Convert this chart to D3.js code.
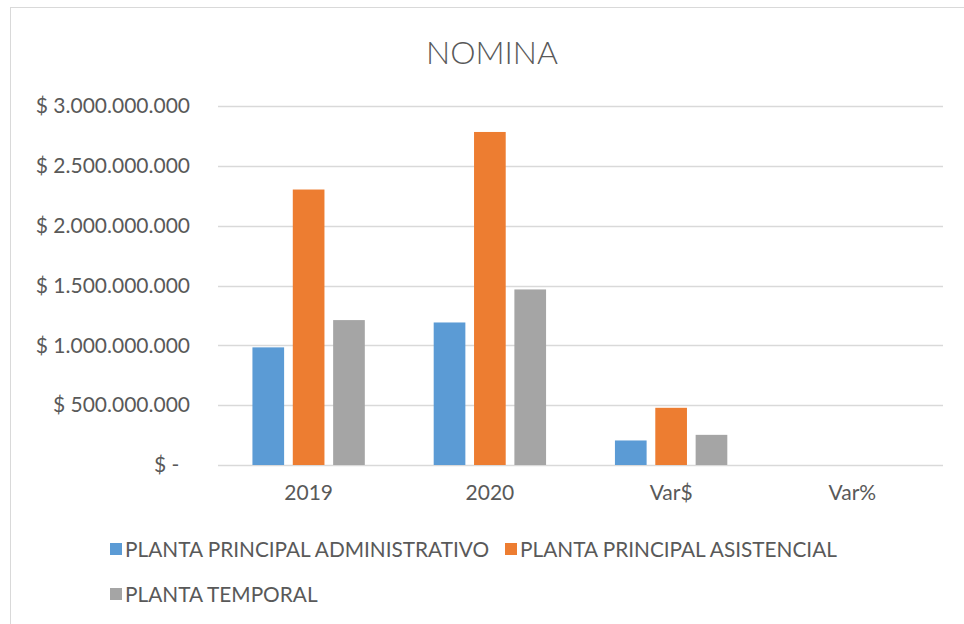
<!DOCTYPE html>
<html>
<head>
<meta charset="utf-8">
<script src="https://cdn.jsdelivr.net/npm/d3@7"></script>
<style>
  body { margin: 0; background: #fff; }
  text { font-family: Lato, "Open Sans", sans-serif; fill: #595959; }
</style>
</head>
<body>
<div id="chart"></div>
<script>
const categories = ['2019', '2020', 'Var$', 'Var%'];
const seriesNames = ['PLANTA PRINCIPAL ADMINISTRATIVO', 'PLANTA PRINCIPAL ASISTENCIAL', 'PLANTA TEMPORAL'];
const administrativo = [983000000, 1191000000, 205000000, 0.21];
const asistencial = [2302000000, 2783000000, 478000000, 0.21];
const temporal = [1211000000, 1467000000, 252000000, 0.21];
const yTicks = [0, 500000000, 1000000000, 1500000000, 2000000000, 2500000000, 3000000000];
const colors = ['#5B9BD5', '#ED7D31', '#A5A5A5'];

const width = 964;
const height = 624;
const seriesValues = [administrativo, asistencial, temporal];

const svg = d3.select('#chart')
  .append('svg')
  .attr('width', width)
  .attr('height', height);

// chart area border
svg.append('rect')
  .attr('x', 10.5)
  .attr('y', 7.5)
  .attr('width', 980)
  .attr('height', 700)
  .attr('fill', '#fff')
  .attr('stroke', '#D9D9D9');

const x = d3.scaleBand()
  .domain(categories)
  .range([218, 943])
  .padding(0);

const gapSide = x.bandwidth() * 0.19;
const xInner = d3.scaleBand()
  .domain(d3.range(seriesNames.length))
  .range([gapSide, x.bandwidth() - gapSide])
  .paddingInner(0.215)
  .paddingOuter(0);

const y = d3.scaleLinear()
  .domain([0, 3000000000])
  .range([465, 106]);

const dots = d3.formatLocale({ decimal: ',', thousands: '.', grouping: [3], currency: ['$', ''] }).format(',.0f');
const fmtTick = d => d === 0 ? '$ -\u00a0\u00a0' : '$ ' + dots(d);

// gridlines
svg.append('g')
  .selectAll('line')
  .data(yTicks)
  .enter().append('line')
  .attr('x1', 218)
  .attr('x2', 943)
  .attr('y1', d => Math.round(y(d)) + 0.5)
  .attr('y2', d => Math.round(y(d)) + 0.5)
  .attr('stroke', '#D9D9D9')
  .attr('stroke-width', 1.3);

// y axis labels
const yAxis = svg.append('g')
  .attr('transform', 'translate(218,0)')
  .call(d3.axisLeft(y).tickValues(yTicks).tickFormat(fmtTick).tickSize(0).tickPadding(28));
yAxis.select('.domain').remove();
yAxis.selectAll('text')
  .style('font-size', '21px')
  .attr('fill', '#595959');

// bars
const groups = svg.append('g')
  .selectAll('g')
  .data(categories)
  .enter().append('g')
  .attr('transform', d => `translate(${x(d)},0)`);

groups.selectAll('rect')
  .data((c, ci) => seriesValues.map((vals, si) => ({ si, v: vals[ci] })))
  .enter().append('rect')
  .attr('x', d => xInner(d.si))
  .attr('width', xInner.bandwidth())
  .attr('y', d => y(d.v))
  .attr('height', d => y(0) - y(d.v))
  .attr('fill', d => colors[d.si]);

// x axis labels
const xAxis = svg.append('g')
  .attr('transform', 'translate(0,465)')
  .call(d3.axisBottom(x).tickSize(0).tickPadding(20));
xAxis.select('.domain').remove();
xAxis.selectAll('text')
  .style('font-size', '21px')
  .attr('fill', '#595959');

// title
svg.append('text')
  .attr('x', 492)
  .attr('y', 64)
  .attr('text-anchor', 'middle')
  .style('font-size', '32px')
  .style('font-weight', 300)
  .text('NOMINA');

// legend
const legendPos = [[110, 549], [505, 549], [110, 594]];
const legend = svg.append('g')
  .selectAll('g')
  .data(seriesNames)
  .enter().append('g')
  .attr('transform', (d, i) => `translate(${legendPos[i][0]},${legendPos[i][1]})`);

legend.append('rect')
  .attr('x', 0)
  .attr('y', -6)
  .attr('width', 12)
  .attr('height', 12)
  .attr('fill', (d, i) => colors[i]);

legend.append('text')
  .attr('x', 15)
  .attr('dy', '0.36em')
  .style('font-size', '20.8px')
  .text(d => d);
</script>
</body>
</html>
